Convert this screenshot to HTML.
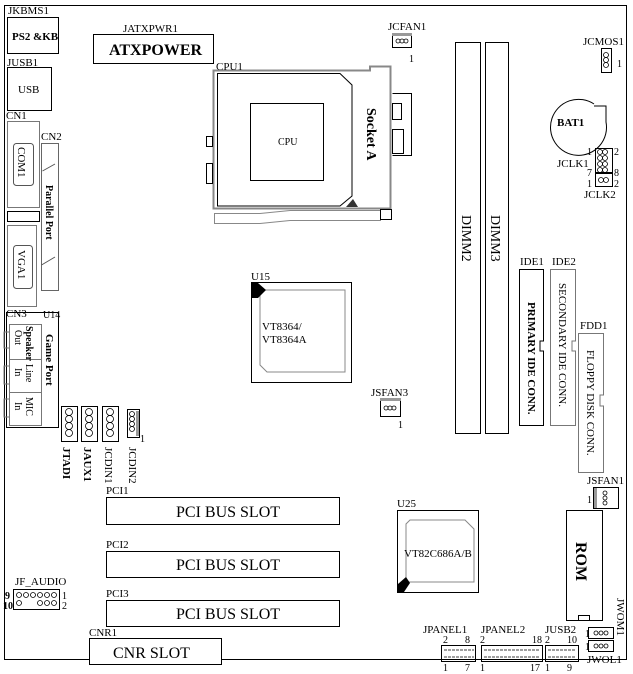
<!DOCTYPE html>
<html><head><meta charset="utf-8"><style>
html,body{margin:0;padding:0;background:#fff;}
svg{display:block;}
text{font-family:"Liberation Serif",serif;fill:#000;}
</style></head><body>
<svg width="633" height="674" viewBox="0 0 633 674" xmlns="http://www.w3.org/2000/svg">
<g fill="none" stroke="#000" stroke-width="1">
<path d="M4.5 5.5 H626.5 V659.5 H4.5 Z"/>
<rect x="7.5" y="17.5" width="51" height="36"/>
<rect x="93.5" y="34.5" width="120" height="29"/>
<rect x="7.5" y="67.5" width="44" height="43"/>
<path d="M7.5 121.5 H39.5 V207.5 H7.5 Z" stroke="#777"/>
<rect x="13.5" y="143.5" width="20" height="42" rx="3" stroke="#555"/>
<rect x="7.5" y="211.5" width="32" height="10"/>
<path d="M7.5 225.5 H36.5 V306.5 H7.5 Z" stroke="#777"/>
<rect x="13.5" y="245.5" width="19" height="43" rx="3" stroke="#555"/>
<path d="M41.5 143.5 H58.5 V290.5 H41.5 Z" stroke="#666"/>
<path d="M42.5 171 L55 164 M41.5 265 L55 257" stroke="#555"/>
<rect x="6.5" y="312.5" width="52" height="115"/>
<rect x="9.5" y="324.5" width="32" height="35" stroke="#777"/>
<rect x="9.5" y="359.5" width="32" height="33" stroke="#777"/>
<rect x="9.5" y="392.5" width="32" height="33" stroke="#777"/>
<path d="M9.5 332 H4 V348 H9.5 M9.5 366 H4 V384 H9.5 M9.5 399 H4 V417 H9.5" stroke="#777"/>
<rect x="61.5" y="406.5" width="16" height="35"/>
<rect x="81.5" y="406.5" width="16" height="35"/>
<rect x="102.5" y="406.5" width="16" height="35"/>
<rect x="127.5" y="409.5" width="12" height="28"/>
<path d="M213.5 70.5 H370 V66.5 H390.5 V208.5 H213.5 Z" stroke="#888" stroke-width="2"/>
<path d="M217.5 73.5 H340 L352 85 V196 L340 206 H217.5 Z" stroke="#000"/>
<rect x="250.5" y="103.5" width="73" height="77"/>
<rect x="206.5" y="136.5" width="6" height="10"/>
<rect x="206.5" y="163.5" width="6" height="20"/>
<path d="M214.5 213.5 H260 L290 210.5 H380.5 V220.5 H290 L260 223.5 H214.5 Z" stroke="#888"/>
<rect x="380.5" y="209.5" width="11" height="10"/>
<path d="M392.5 93.5 H411.5 V155.5 H392.5" />
<rect x="392.5" y="103.5" width="9" height="16"/>
<rect x="392.5" y="129.5" width="11" height="24"/>
<rect x="392.5" y="33.5" width="19" height="14"/>
<rect x="455.5" y="42.5" width="25" height="391"/>
<rect x="485.5" y="42.5" width="23" height="391"/>
<rect x="601.5" y="48.5" width="10" height="24"/>
<path d="M594 104 A28 28 0 1 0 606 122 V106 H594" />
<rect x="595.5" y="148.5" width="17" height="24"/>
<rect x="595.5" y="173.5" width="17" height="13"/>
<path d="M519.5 269.5 H543.5 V341 H540 V351 H543.5 V425.5 H519.5 Z"/>
<path d="M550.5 269.5 H575.5 V341 H572 V351 H575.5 V425.5 H550.5 Z" stroke="#777"/>
<path d="M578.5 333.5 H603.5 V395 H600 V406 H603.5 V472.5 H578.5 Z" stroke="#777"/>
<rect x="251.5" y="282.5" width="100" height="100"/>
<path d="M262 290 H345 V372 H267 L260 365 V292 Z" stroke="#888"/>
<rect x="380.5" y="398.5" width="20" height="18"/>
<rect x="593.5" y="487.5" width="25" height="21"/>
<rect x="566.5" y="510.5" width="36" height="110"/>
<rect x="578.5" y="615.5" width="11" height="5"/>
<rect x="397.5" y="510.5" width="81" height="82"/>
<path d="M410 520 H465 L474 529 V582 H406 V524 Z" stroke="#888"/>
<rect x="106.5" y="497.5" width="233" height="27"/>
<rect x="106.5" y="551.5" width="233" height="26"/>
<rect x="106.5" y="600.5" width="233" height="26"/>
<rect x="89.5" y="638.5" width="132" height="26" fill="#fff"/>
<rect x="13.5" y="589.5" width="46" height="20"/>
<rect x="441.5" y="645.5" width="34" height="16"/>
<rect x="481.5" y="645.5" width="61" height="16"/>
<rect x="545.5" y="645.5" width="33" height="16"/>
<rect x="588.5" y="627.5" width="25" height="11"/>
<rect x="588.5" y="640.5" width="25" height="11"/>
</g>
<rect x="392" y="33" width="20" height="3" fill="#999"/>
<rect x="380" y="398" width="21" height="3" fill="#999"/>
<rect x="594" y="488" width="3" height="20" fill="#999"/>
<rect x="136" y="411" width="3" height="25" fill="#999"/>
<path d="M252 283 H258 L266 290 L258 298 H252 Z" fill="#000"/>
<path d="M398 592 V584 L406 577 L410 583 L404 592 Z" fill="#000"/>
<path d="M346 207 L353 199 L358 207 Z" fill="#333"/>
<g fill="none" stroke="#000" stroke-width="0.8">
<circle cx="398" cy="41" r="2"/><circle cx="402" cy="41" r="2"/><circle cx="406" cy="41" r="2"/>
<circle cx="386" cy="408" r="2"/><circle cx="390" cy="408" r="2"/><circle cx="394" cy="408" r="2"/>
<circle cx="606" cy="55" r="2.5"/><circle cx="606" cy="60" r="2.5"/><circle cx="606" cy="65" r="2.5"/>
<circle cx="605" cy="493" r="2"/><circle cx="605" cy="498" r="2"/><circle cx="605" cy="503" r="2"/>
<circle cx="600" cy="152" r="2.5"/><circle cx="605" cy="152" r="2.5"/><circle cx="600" cy="158" r="2.5"/><circle cx="605" cy="158" r="2.5"/><circle cx="600" cy="164" r="2.5"/><circle cx="605" cy="164" r="2.5"/><circle cx="600" cy="170" r="2.5"/><circle cx="605" cy="170" r="2.5"/>
<circle cx="601" cy="180" r="2.5"/><circle cx="606" cy="180" r="2.5"/>
<circle cx="69" cy="412" r="3.5"/><circle cx="69" cy="419" r="3.5"/><circle cx="69" cy="426" r="3.5"/><circle cx="69" cy="433" r="3.5"/>
<circle cx="89" cy="412" r="3.5"/><circle cx="89" cy="419" r="3.5"/><circle cx="89" cy="426" r="3.5"/><circle cx="89" cy="433" r="3.5"/>
<circle cx="110" cy="412" r="3.5"/><circle cx="110" cy="419" r="3.5"/><circle cx="110" cy="426" r="3.5"/><circle cx="110" cy="433" r="3.5"/>
<circle cx="132" cy="414" r="2.5"/><circle cx="132" cy="419" r="2.5"/><circle cx="132" cy="424" r="2.5"/><circle cx="132" cy="429" r="2.5"/>
<circle cx="19" cy="595" r="2.5"/><circle cx="26" cy="595" r="2.5"/><circle cx="33" cy="595" r="2.5"/><circle cx="40" cy="595" r="2.5"/><circle cx="47" cy="595" r="2.5"/><circle cx="54" cy="595" r="2.5"/>
<circle cx="19" cy="603" r="2.5"/><circle cx="40" cy="603" r="2.5"/><circle cx="47" cy="603" r="2.5"/><circle cx="54" cy="603" r="2.5"/>
<circle cx="596" cy="633" r="2"/><circle cx="601" cy="633" r="2"/><circle cx="606" cy="633" r="2"/>
<circle cx="596" cy="646" r="2"/><circle cx="601" cy="646" r="2"/><circle cx="606" cy="646" r="2"/>
</g>
<g fill="none" stroke="#000" stroke-width="0.8">
<path d="M444 650 h30 M444 657 h30 M484 650 h56 M484 657 h56 M548 650 h28 M548 657 h28" stroke-dasharray="3,1"/>
</g>
<g font-size="11">
<text x="8" y="14">JKBMS1</text>
<text x="12" y="40" font-weight="bold" font-size="11">PS2 &amp;KB</text>
<text x="123" y="32">JATXPWR1</text>
<text x="109" y="55" font-size="16" font-weight="bold">ATXPOWER</text>
<text x="7" y="66">JUSB1</text>
<text x="18" y="93" font-size="11">USB</text>
<text x="6" y="119">CN1</text>
<text x="41" y="140">CN2</text>
<text x="6" y="317">CN3</text>
<text x="43" y="318" font-size="10">U14</text>
<text x="216" y="70">CPU1</text>
<text x="278" y="145" font-size="10">CPU</text>
<text x="388" y="30">JCFAN1</text>
<text x="409" y="62" font-size="10">1</text>
<text x="583" y="45">JCMOS1</text>
<text x="617" y="67" font-size="10">1</text>
<text x="557" y="126" font-weight="bold" font-size="11">BAT1</text>
<text x="587" y="155" font-size="10">1</text>
<text x="614" y="155" font-size="10">2</text>
<text x="557" y="167" font-size="11">JCLK1</text>
<text x="587" y="176" font-size="10">7</text>
<text x="614" y="176" font-size="10">8</text>
<text x="587" y="187" font-size="10">1</text>
<text x="614" y="187" font-size="10">2</text>
<text x="584" y="198">JCLK2</text>
<text x="520" y="265">IDE1</text>
<text x="552" y="265">IDE2</text>
<text x="580" y="329">FDD1</text>
<text x="251" y="280">U15</text>
<text x="262" y="330" font-size="11">VT8364/</text>
<text x="262" y="343" font-size="11">VT8364A</text>
<text x="371" y="396">JSFAN3</text>
<text x="398" y="428" font-size="10">1</text>
<text x="587" y="484">JSFAN1</text>
<text x="587" y="503" font-size="10">1</text>
<text x="397" y="507">U25</text>
<text x="404" y="557" font-size="11">VT82C686A/B</text>
<text x="106" y="494">PCI1</text>
<text x="106" y="548">PCI2</text>
<text x="106" y="597">PCI3</text>
<text x="176" y="517" font-size="16">PCI BUS SLOT</text>
<text x="176" y="570" font-size="16">PCI BUS SLOT</text>
<text x="176" y="619" font-size="16">PCI BUS SLOT</text>
<text x="89" y="636">CNR1</text>
<text x="113" y="658" font-size="16">CNR SLOT</text>
<text x="15" y="585">JF_AUDIO</text>
<text x="5" y="599" font-size="10" font-weight="bold">9</text>
<text x="3" y="609" font-size="10" font-weight="bold">10</text>
<text x="62" y="599" font-size="10">1</text>
<text x="62" y="609" font-size="10">2</text>
<text x="140" y="442" font-size="10">1</text>
<text x="423" y="633">JPANEL1</text>
<text x="481" y="633">JPANEL2</text>
<text x="545" y="633">JUSB2</text>
<text x="443" y="643" font-size="10">2</text><text x="465" y="643" font-size="10">8</text>
<text x="480" y="643" font-size="10">2</text><text x="532" y="643" font-size="10">18</text>
<text x="545" y="643" font-size="10">2</text><text x="567" y="643" font-size="10">10</text>
<text x="443" y="671" font-size="10">1</text><text x="465" y="671" font-size="10">7</text>
<text x="480" y="671" font-size="10">1</text><text x="530" y="671" font-size="10">17</text>
<text x="545" y="671" font-size="10">1</text><text x="567" y="671" font-size="10">9</text>
<text x="585" y="637" font-size="10">1</text>
<text x="585" y="650" font-size="10">1</text>
<text x="587" y="663">JWOL1</text>
</g>
<g font-size="11">
<text transform="translate(18,147) rotate(90)">COM1</text>
<text transform="translate(18,250) rotate(90)">VGA1</text>
<text transform="translate(46,185) rotate(90)" font-weight="bold" font-size="10">Parallel Port</text>
<text transform="translate(26,326) rotate(90)" font-size="10" font-weight="bold">Speaker</text>
<text transform="translate(15,330) rotate(90)" font-size="10">Out</text>
<text transform="translate(26,364) rotate(90)" font-size="10">Line</text>
<text transform="translate(15,368) rotate(90)" font-size="10">In</text>
<text transform="translate(26,397) rotate(90)" font-size="10">MIC</text>
<text transform="translate(15,402) rotate(90)" font-size="10">In</text>
<text transform="translate(46,334) rotate(90)" font-size="11" font-weight="bold">Game Port</text>
<text transform="translate(63,447) rotate(90)" font-weight="bold">JTADI</text>
<text transform="translate(84,447) rotate(90)" font-weight="bold">JAUX1</text>
<text transform="translate(105,447) rotate(90)">JCDIN1</text>
<text transform="translate(129,447) rotate(90)">JCDIN2</text>
<text transform="translate(367,108) rotate(90)" font-size="14" font-weight="bold">Socket A</text>
<text transform="translate(462,215) rotate(90)" font-size="14">DIMM2</text>
<text transform="translate(491,215) rotate(90)" font-size="14">DIMM3</text>
<text transform="translate(528,302) rotate(90)" font-size="11" font-weight="bold">PRIMARY IDE CONN.</text>
<text transform="translate(559,283) rotate(90)" font-size="11">SECONDARY IDE CONN.</text>
<text transform="translate(587,350) rotate(90)" font-size="11">FLOPPY DISK CONN.</text>
<text transform="translate(576,542) rotate(90)" font-size="16" font-weight="bold">ROM</text>
<text transform="translate(617,598) rotate(90)">JWOM1</text>
</g>
</svg>
</body></html>
